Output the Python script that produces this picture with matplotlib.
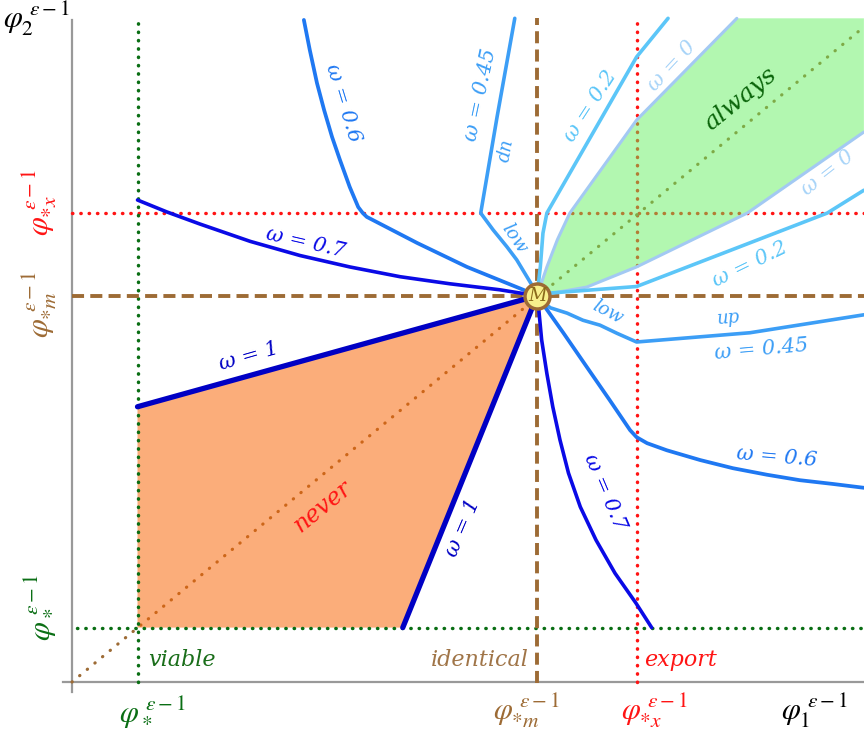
import numpy as np
import matplotlib.pyplot as plt

plt.rcParams['mathtext.fontset'] = 'stix'

# thresholds, in units of phi^(eps-1)
phi_star = 1.0
phi_m = 7.1
phi_x = 8.62
x_end, y_end = 12.09, 12.2

# iso-omega curves: upper-left branch (up) and lower-right branch (dn)
w07_up_x = [1.0, 1.45, 1.95, 2.72, 3.48, 4.24, 5.01, 5.77, 6.53, 7.1]
w07_up_y = [8.86, 8.64, 8.42, 8.10, 7.84, 7.63, 7.45, 7.32, 7.21, 7.1]
w07_dn_x = [7.1, 7.12, 7.17, 7.25, 7.34, 7.45, 7.58, 7.76, 8.0, 8.29, 8.61, 8.85]
w07_dn_y = [7.1, 6.93, 6.29, 5.67, 5.06, 4.45, 3.84, 3.22, 2.61, 2.00, 1.45, 1.0]

w1_up_x = [1.0, 7.1]
w1_up_y = [5.06, 7.1]
w1_dn_x = [5.05, 7.1]
w1_dn_y = [1.0, 7.1]

w06_up_x = [3.54, 3.63, 3.74, 3.85, 3.97, 4.09, 4.24, 4.37, 4.44,
            4.50, 5.27, 6.03, 6.89, 7.1]
w06_up_y = [12.17, 11.62, 11.01, 10.51, 10.02, 9.60, 9.10, 8.73, 8.62,
            8.55, 8.07, 7.63, 7.21, 7.1]
w06_dn_x = [7.1, 7.50, 7.86, 8.21, 8.52, 8.62, 8.78, 9.08, 9.59, 10.09, 10.61, 11.11, 11.62, 12.09]
w06_dn_y = [7.1, 6.42, 5.79, 5.18, 4.63, 4.50, 4.39, 4.26, 4.08, 3.93, 3.81, 3.71, 3.64, 3.57]

w045_up_x = [6.76, 6.49, 6.24, 6.43, 6.64, 6.79, 6.95, 7.04, 7.1]
w045_up_y = [12.2, 10.39, 8.62, 8.31, 8.00, 7.76, 7.44, 7.26, 7.1]
w045_dn_x = [7.1, 7.30, 7.56, 7.80, 8.06, 8.32, 8.62, 10.35, 12.09]
w045_dn_y = [7.1, 6.88, 6.78, 6.65, 6.56, 6.41, 6.25, 6.42, 6.75]

w02_up_x = [7.1, 7.15, 7.19, 7.25, 8.62, 9.10]
w02_up_y = [7.1, 7.63, 8.25, 8.62, 11.49, 12.2]
w02_dn_x = [7.1, 7.30, 8.62, 11.53, 12.09]
w02_dn_y = [7.1, 7.15, 7.27, 8.62, 9.04]

w0_up_x = [7.1, 7.25, 7.41, 7.60, 8.62, 10.15]
w0_up_y = [7.1, 7.63, 8.13, 8.62, 10.33, 12.2]
w0_dn_x = [7.1, 7.86, 8.62, 10.31, 12.09]
w0_dn_y = [7.1, 7.26, 7.63, 8.62, 10.11]

never_x = [phi_star, phi_star, phi_m, w1_dn_x[0]]
never_y = [phi_star, w1_up_y[0], phi_m, phi_star]

BROWN = '#9d6b35'
GREEN = '#0a6e14'
RED = '#ff1414'
C0, C02, C045, C06, C07, C1 = '#a3c9f3', '#5cc6f8', '#3c9ef6', '#1f78f2', '#0a0ae6', '#0000c4'

fig = plt.figure(figsize=(8.64, 7.32), dpi=100)
ax = fig.add_axes([0, 0, 1, 1])
ax.set_xlim(-72 / 65.5, 792 / 65.5)
ax.set_ylim(-50 / 54.4, 682 / 54.4)
ax.axis('off')

# axes
ax.plot([-0.14, x_end], [0, 0], color='#999999', lw=1.6, zorder=1)
ax.plot([0, 0], [-0.18, 12.17], color='#999999', lw=1.6, zorder=1)

dot = dict(linestyle=(0, (0.1, 2.3)), dash_capstyle='round', lw=2.5)
# red and diagonal go under the shaded regions
ax.plot([phi_x, phi_x], [0, 12.13], color=RED, zorder=1, **dot)
ax.plot([0, x_end], [phi_x, phi_x], color=RED, zorder=1, **dot)
ax.plot([0, x_end], [0, x_end * 0.996], color=BROWN, linestyle=(0, (0.1, 3.0)),
        dash_capstyle='round', lw=2.3, zorder=1)

ax.fill(never_x, never_y, color='#f96200', alpha=0.52, lw=0, zorder=2)
ax.fill(w0_up_x + [x_end] + w0_dn_x[::-1], w0_up_y + [y_end] + w0_dn_y[::-1],
        color='#5ef05a', alpha=0.48, lw=0, zorder=2)

ax.plot([phi_star, phi_star], [0, 12.13], color=GREEN, zorder=3, **dot)
ax.plot([0.08, x_end], [phi_star, phi_star], color=GREEN, zorder=3, **dot)
dash = dict(color=BROWN, lw=2.8, linestyle=(0, (3.1, 1.6)), zorder=3)
ax.plot([phi_m, phi_m], [-0.02, 12.2], **dash)
ax.plot([0, x_end], [phi_m, phi_m], **dash)

curves = [
    (w0_up_x, w0_up_y, C0, 2.2), (w0_dn_x, w0_dn_y, C0, 2.2),
    (w02_up_x, w02_up_y, C02, 2.6), (w02_dn_x, w02_dn_y, C02, 2.6),
    (w045_up_x, w045_up_y, C045, 2.6), (w045_dn_x, w045_dn_y, C045, 2.6),
    (w06_up_x, w06_up_y, C06, 2.7), (w06_dn_x, w06_dn_y, C06, 2.7),
    (w07_up_x, w07_up_y, C07, 2.6), (w07_dn_x, w07_dn_y, C07, 2.6),
    (w1_up_x, w1_up_y, C1, 3.8), (w1_dn_x, w1_dn_y, C1, 3.8),
]
for cx, cy, c, lw in curves:
    ax.plot(cx, cy, color=c, lw=lw, solid_joinstyle='round', solid_capstyle='round', zorder=4)

# point M
ax.plot([phi_m], [phi_m], 'o', ms=18, mfc='#f8f08c', mec=BROWN, mew=2.5, zorder=6)
ax.text(phi_m, phi_m, 'M', ha='center', va='center', fontsize=13, style='italic',
        family='DejaVu Serif', color='#8a6a1a', zorder=7)

it = dict(family='DejaVu Serif', style='italic', zorder=7, ha='center', va='center')
lab = [
    ('ω = 0.7', 3.56, 8.07, -13, C07, 15),
    ('ω = 1', 2.70, 5.99, 16, C1, 15),
    ('ω = 1', 5.97, 2.83, 67, C1, 15),
    ('ω = 0.7', 8.13, 3.49, -67, C07, 15),
    ('ω = 0.6', 4.14, 10.64, -73, C06, 15),
    ('ω = 0.6', 10.76, 4.14, -5, C06, 15),
    ('ω = 0.45', 6.24, 10.79, 78, C045, 15),
    ('ω = 0.45', 10.53, 6.12, 5, C045, 15),
    ('up', 6.58, 9.74, -100, C045, 13),
    ('low', 6.75, 8.16, -56, C045, 13),
    ('up', 10.03, 6.69, 5, C045, 13),
    ('low', 8.18, 6.80, -28, C045, 13),
    ('ω = 0.2', 7.91, 10.59, 57, C02, 15),
    ('ω = 0.2', 10.35, 7.68, 26, C02, 15),
    ('ω = 0', 9.15, 11.32, 47, '#a8d4f8', 15),
    ('ω = 0', 11.53, 9.36, 38, '#a8d4f8', 15),
    ('always', 10.2, 10.72, 39, '#0a640a', 18),
    ('never', 3.82, 3.22, 39, RED, 17),
]
for s, tx, ty, rot, c, fs in lab:
    ax.text(tx, ty, s, rotation=rot, color=c, fontsize=fs, rotation_mode='anchor', **it)

it2 = dict(family='DejaVu Serif', style='italic', fontsize=16, va='center', zorder=7)
ax.text(1.16, 0.40, 'viable', color='#1a6e1a', ha='left', **it2)
ax.text(6.97, 0.40, 'identical', color='#a07548', ha='right', **it2)
ax.text(8.73, 0.40, 'export', color=RED, ha='left', **it2)

# axis labels
ms = dict(fontsize=22, ha='center', va='center', zorder=7)
ax.text(-0.55, 12.2, r'$\varphi_2^{\ \varepsilon-1}$', color='black', **ms)
ax.text(11.34, -0.53, r'$\varphi_1^{\ \varepsilon-1}$', color='black', **ms)
ax.text(1.22, -0.53, r'$\varphi_*^{\ \varepsilon-1}$', color=GREEN, **ms)
ax.text(6.93, -0.53, r'$\varphi_{*m}^{\ \varepsilon-1}$', color=BROWN, **ms)
ax.text(8.89, -0.53, r'$\varphi_{*x}^{\ \varepsilon-1}$', color=RED, **ms)
ax.text(-0.5, 1.37, r'$\varphi_*^{\ \varepsilon-1}$', color=GREEN, rotation=90, **ms)
ax.text(-0.5, 6.93, r'$\varphi_{*m}^{\ \varepsilon-1}$', color=BROWN, rotation=90, **ms)
ax.text(-0.5, 8.82, r'$\varphi_{*x}^{\ \varepsilon-1}$', color=RED, rotation=90, **ms)

fig.savefig('out.png', dpi=100)
